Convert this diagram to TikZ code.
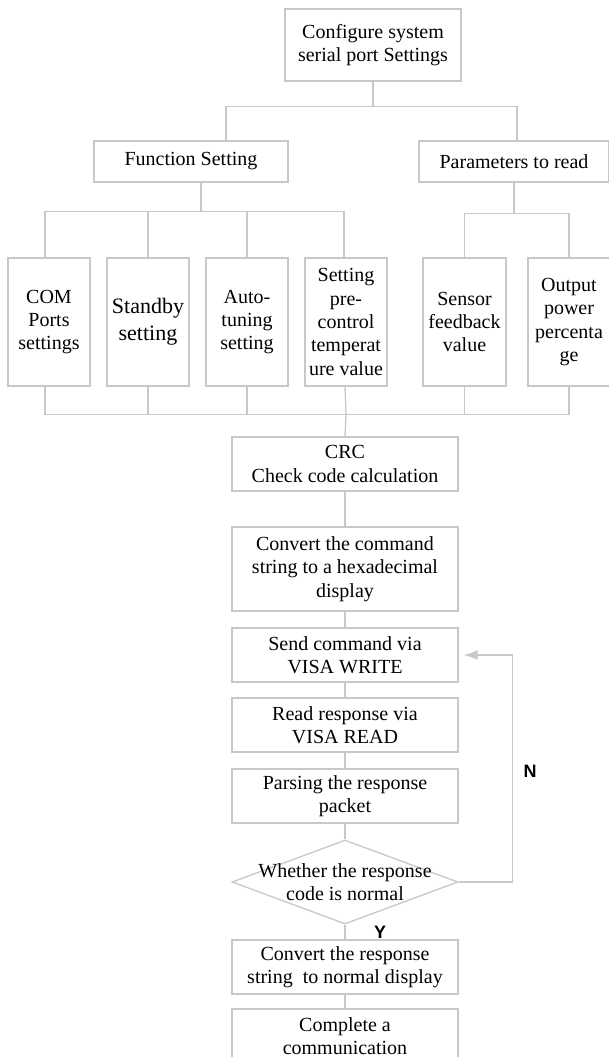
\documentclass[tikz,border=0pt]{standalone}
\usepackage{fontspec}
\setmainfont{Liberation Serif}
\newfontfamily\lblfont{Liberation Sans}
\usetikzlibrary{arrows.meta,positioning,calc,shapes.geometric}
\definecolor{ln}{HTML}{C8C8C8}
\tikzset{box/.style={rectangle,draw=ln,line width=1.3pt,inner sep=0pt,align=center,
    font=\fontsize{20}{23.3}\selectfont,minimum height=54pt,minimum width=226pt},
  tall/.style={box,minimum width=82pt,minimum height=128pt},
  decision/.style={diamond,draw=ln,line width=1.3pt,inner sep=0pt,
    minimum width=226pt,minimum height=84pt},
  wire/.style={draw=ln,line width=1.3pt},
  yn/.style={font=\lblfont\bfseries\fontsize{18}{20}\selectfont}}

\begin{document}
\begin{tikzpicture}[x=1pt,y=-1pt]
\useasboundingbox (0,0) rectangle (608,1057);
% setup tree
\node[box,minimum width=176pt,minimum height=72pt] (cfg) at (373,45) {Configure system\\serial port Settings};
\node[box,minimum width=194pt,minimum height=41pt] (func) at (191,161.5) {Function Setting};
\node[box,minimum width=190pt,minimum height=41pt] (param) at (514,161.5) {Parameters to read};
\node[tall] (com) at (49,322) {COM\\Ports\\settings};
\node[tall,font=\fontsize{22}{27}\selectfont] (stby) at (148,322) {Standby\\setting};
\node[tall] (auto) at (247,322) {Auto-\\tuning\\setting};
\node[tall] (pre) at (346,322) {Setting\\pre-\\control\\temperat\\ure value};
\node[tall,minimum width=83pt] (sens) at (464.5,322) {Sensor\\feedback\\value};
\node[tall] (outp) at (569,322) {Output\\power\\percenta\\ge};
\draw[wire] (cfg.south) -- ++(0,25) coordinate (j1);
\draw[wire] ([xshift=35pt]func.north) |- (j1) -| ([xshift=3pt]param.north);
\draw[wire] ([xshift=10pt]func.south) -- ++(0,29) coordinate (j2);
\draw[wire] ([xshift=-4pt]com.north) |- (j2) -| ([xshift=-2pt]pre.north);
\draw[wire] (stby.north) -- (stby.north |- j2) (auto.north) -- (auto.north |- j2);
\draw[wire] (param.south) -- ++(0,31) coordinate (j3);
\draw[wire] (sens.north) |- (j3) -| (outp.north);
\draw[wire] ([xshift=-4pt]com.south) -- ++(0,28) coordinate (j4) -| (outp.south);
\draw[wire] (stby.south) -- (stby.south |- j4) (auto.south) -- (auto.south |- j4)
  (sens.south) -- (sens.south |- j4);
% communication chain
\node[box] (crc) at (345,464) {CRC\\Check code calculation};
\node[box,minimum height=84pt] (hex) at (345,569) {Convert the command\\string to a hexadecimal\\display};
\node[box] (send) at (345,655) {Send command via\\VISA WRITE};
\node[box] (read) at (345,725) {Read response via\\VISA READ};
\node[box] (pars) at (345,796) {Parsing the response\\packet};
\node[decision,label={[name=chkt,align=center,font=\fontsize{20}{23.3}\selectfont]center:Whether the response\\code is normal}] (chk) at (345,882) {};
\node[box] (resp) at (345,967) {Convert the response\\string\ \ to normal display};
\node[box] (done) at (345,1036) {Complete a\\communication};
\draw[wire] ([xshift=-1pt]pre.south) -- (pre.south |- j4) -- (crc.north);
\foreach \a/\b in {crc/hex,hex/send,send/read,read/pars,pars/chk,chk/resp,resp/done}
  \draw[wire] (\a) -- (\b);
\draw[wire,-{Latex[length=14pt,width=10pt]}] (chk.east) -- ++(54,0) |- ([xshift=5pt]send.east);
\node[yn] (no) at (530,771) {N};
\node[yn] (yes) at (380,932) {Y};
\end{tikzpicture}
\end{document}
